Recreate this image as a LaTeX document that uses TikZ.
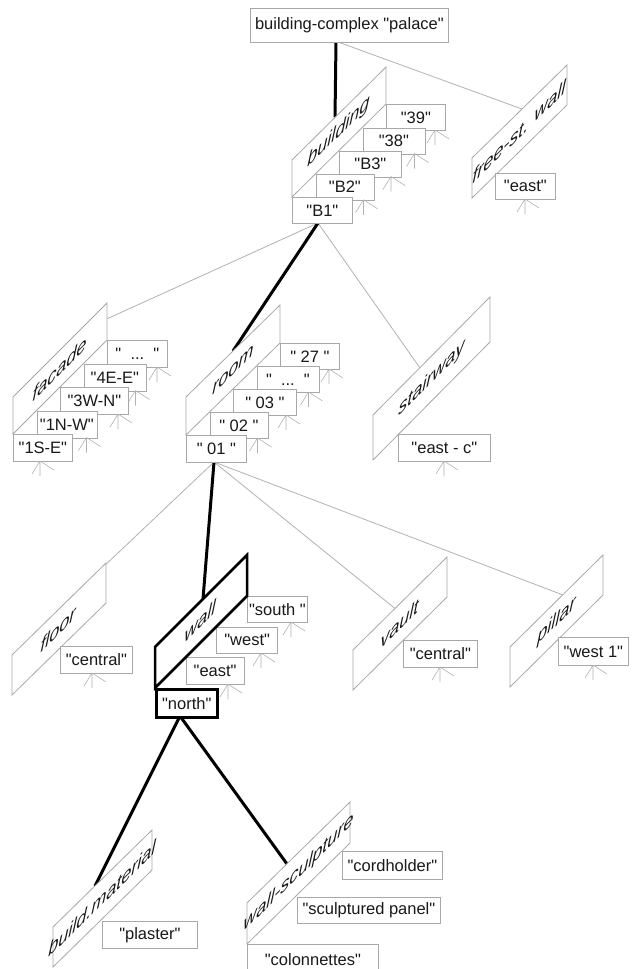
\documentclass[tikz,border=0pt]{standalone}
\usepackage{fontspec}
\newfontfamily\lsans{Liberation Sans}
\definecolor{boxgray}{RGB}{168,168,168}
\definecolor{linegray}{RGB}{178,178,178}
\definecolor{txt}{RGB}{25,25,25}
\tikzset{
 val/.style={draw=boxgray, line width=0.8pt, fill=white, anchor=north west, inner sep=0pt,
   minimum height=27pt, text=txt, font=\lsans\fontsize{16.5}{18}\selectfont},
 valthick/.style={val, draw=black, line width=2.5pt},
 thinlink/.style={draw=linegray, line width=0.8pt},
 thicklink/.style={draw=black, line width=3pt},
 flagthin/.style={draw=boxgray, line width=0.8pt, fill=white},
 flagthick/.style={draw=black, line width=2.5pt, fill=white},
 flagtext/.style={inner sep=0pt, text=txt, font=\lsans\itshape\fontsize{18}{20}\selectfont, transform shape},
 fanline/.style={draw=linegray, line width=0.6pt},
}
\newcommand\mkflag[8]{%
 \coordinate (#1-tl) at (#2,#3);
 \coordinate (#1-tr) at ({#2+#4},{#3-#5});
 \coordinate (#1-br) at ({#2+#4},{#3-#5+#6});
 \coordinate (#1-bl) at (#2,{#3+#6});
 \draw[#8] (#1-tl) -- (#1-tr) -- (#1-br) -- (#1-bl) -- cycle;
 \pgfmathsetmacro\flagslope{#5/#4}
 \begin{scope}[shift={({#2+#4/2},{#3-#5/2+#6/2})}, yslant=\flagslope, xslant=0.08]
   \node[flagtext] (#1) at (0,0) {#7};
 \end{scope}
}
\newcommand\mkfan[2]{\draw[fanline] (#1,#2) -- ++(-8,13) (#1,#2) -- ++(0,15) (#1,#2) -- ++(14,9);}
\begin{document}
\begin{tikzpicture}[x=1pt,y=-1pt]
\useasboundingbox (0,0) rectangle (634,969);
\clip (0,0) rectangle (634,969);
\fill[white] (0,0) rectangle (634,969);

% connector end points
\coordinate (rootout1) at (336,42);
\coordinate (rootout2) at (338,42);
\coordinate (bld-in) at (335,117.5);
\coordinate (fsw-in) at (522,109);
\coordinate (b1out) at (318,223);
\coordinate (room-in) at (233,351);
\coordinate (fac-in) at (78,332);
\coordinate (stw-in) at (420,368);
\coordinate (o1out) at (214,462);
\coordinate (wal-in) at (203,599);
\coordinate (flr-in) at (62,606);
\coordinate (vlt-in) at (395,608.5);
\coordinate (plr-in) at (563,595);
\coordinate (nout) at (180,716);
\coordinate (bm-in) at (95,886);
\coordinate (ws-in) at (287,864);

% connectors
\draw[thinlink] (rootout2) -- (fsw-in);
\draw[thinlink] (b1out) -- (fac-in);
\draw[thinlink] (b1out) -- (stw-in);
\draw[thinlink] (o1out) -- (flr-in);
\draw[thinlink] (o1out) -- (vlt-in);
\draw[thinlink] (o1out) -- (plr-in);
\draw[thicklink] (rootout1) -- (bld-in);
\draw[thicklink] (b1out) -- (room-in);
\draw[thicklink] (o1out) -- (wal-in);
\draw[thicklink] (nout) -- (bm-in);
\draw[thicklink] (nout) -- (ws-in);

% root
\node[val, minimum width=198pt, minimum height=34pt] (root) at (250,8) {building-complex "palace"};

% building
\mkflag{bld}{292}{160}{94}{93}{37}{building}{flagthin}
\node[val, minimum width=59pt, minimum height=26pt] (b39) at (386,104) {"39"};
\mkfan{435}{130}
\node[val, minimum width=62pt, minimum height=26pt] (b38) at (362.5,127.5) {"38"};
\mkfan{414.5}{153.5}
\node[val, minimum width=62pt, minimum height=26pt] (bB3) at (339,150.5) {"B3"};
\mkfan{391}{176.5}
\node[val, minimum width=58pt, minimum height=26pt] (bB2) at (315.5,173.75) {"B2"};
\mkfan{363.5}{199.75}
\node[val, minimum width=60pt, minimum height=26pt] (bB1) at (292,197) {"B1"};

% free-standing wall
\mkflag{fsw}{472}{158}{95}{93}{40}{free-st. wall}{flagthin}
\node[val, minimum width=60pt, minimum height=26pt] (fsweast) at (495,173) {"east"};
\mkfan{525}{199}

% facade
\mkflag{fac}{13}{397}{94}{94}{37}{facade}{flagthin}
\node[val, minimum width=60pt, minimum height=27pt] (fdots) at (107,340) {"~~...~~"};
\mkfan{157}{367}
\node[val, minimum width=62pt, minimum height=27pt] (f4ee) at (83.5,363.5) {"4E-E"};
\mkfan{135.5}{390.5}
\node[val, minimum width=68pt, minimum height=27pt] (f3wn) at (60,387) {"3W-N"};
\mkfan{118}{414}
\node[val, minimum width=60pt, minimum height=27pt] (f1nw) at (36.5,410.5) {"1N-W"};
\mkfan{86.5}{437.5}
\node[val, minimum width=59pt, minimum height=27pt] (f1se) at (13,434) {"1S-E"};
\mkfan{40}{461}

% room
\mkflag{room}{186}{397}{94}{92}{38}{room}{flagthin}
\node[val, minimum width=59pt, minimum height=26pt] (r27) at (280,343) {" 27 "};
\mkfan{329}{369}
\node[val, minimum width=62pt, minimum height=26pt] (rdots) at (256.5,366) {"~~...~~"};
\mkfan{308.5}{392}
\node[val, minimum width=63pt, minimum height=26pt] (r03) at (233,389) {" 03 "};
\mkfan{286}{415}
\node[val, minimum width=58pt, minimum height=26pt] (r02) at (209.5,412) {" 02 "};
\mkfan{257.5}{438}
\node[val, minimum width=60pt, minimum height=27pt] (r01) at (186,435) {" 01 "};

% stairway
\mkflag{stw}{373}{415}{117}{118}{45}{stairway}{flagthin}
\node[val, minimum width=92pt, minimum height=27pt] (stweastc) at (398,434) {"east - c"};
\mkfan{444}{461}

% floor
\mkflag{flr}{12}{655}{94}{92}{40}{floor}{flagthin}
\node[val, minimum width=72pt, minimum height=27pt] (flrcentral) at (60,646) {"central"};
\mkfan{92}{673}

% wall
\node[val, minimum width=60pt, minimum height=26pt] (wsouth) at (247,596) {"south "};
\mkfan{291}{622}
\node[val, minimum width=61pt, minimum height=26pt] (wwest) at (216.3,626.7) {"west"};
\mkfan{261}{653}
\node[val, minimum width=58pt, minimum height=27pt] (weast) at (185.7,657.3) {"east"};
\mkfan{228}{684}
\node[valthick, minimum width=61pt, minimum height=28pt] (wnorth) at (155,688) {"north"};
\mkflag{wal}{155}{647}{92}{92}{41}{wall}{flagthick}

% vault
\mkflag{vlt}{353}{650}{94}{93}{40}{vault}{flagthin}
\node[val, minimum width=74pt, minimum height=27pt] (vltcentral) at (403,640) {"central"};
\mkfan{440}{667}

% pillar
\mkflag{plr}{510}{647}{93}{92}{40}{pillar}{flagthin}
\node[val, minimum width=70pt, minimum height=28pt] (plrwest) at (558,637) {"west 1"};
\mkfan{593}{665}

% build.material
\mkflag{bm}{53}{927}{99}{97}{40}{build.material}{flagthin}
\node[val, minimum width=95pt, minimum height=27pt] (plaster) at (102,921) {"plaster"};

% wall-sculpture
\mkflag{ws}{247}{903}{103}{101}{41}{wall-sculpture}{flagthin}
\node[val, minimum width=100pt, minimum height=28pt] (cordholder) at (342,851) {"cordholder"};
\node[val, minimum width=143pt, minimum height=26pt] (panel) at (297,897) {"sculptured panel"};
\node[val, minimum width=131pt, minimum height=30pt] (colonnettes) at (247,944) {"colonnettes"};
\end{tikzpicture}
\end{document}
